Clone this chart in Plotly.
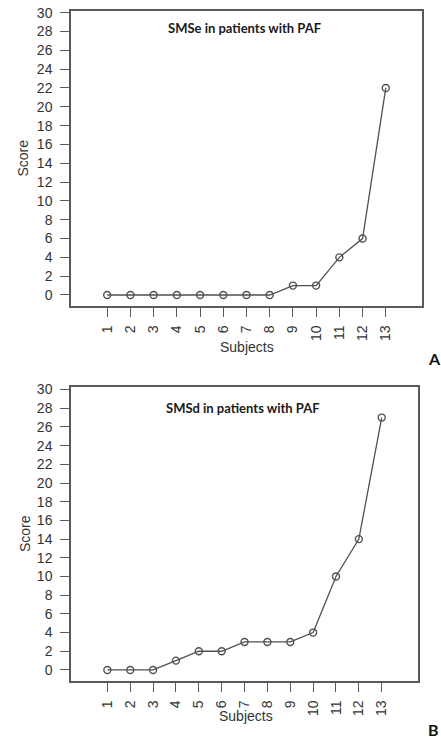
import plotly.graph_objects as go

W, H = 441, 738

subjects = list(range(1, 14))
subject_labels = [str(s) for s in subjects]
smse_scores = [0, 0, 0, 0, 0, 0, 0, 0, 1, 1, 4, 6, 22]
smsd_scores = [0, 0, 0, 1, 2, 2, 3, 3, 3, 4, 10, 14, 27]
y_ticks = list(range(0, 31, 2))
y_tick_labels = [str(v) for v in y_ticks]

title_a = "SMSe in patients with PAF"
title_b = "SMSd in patients with PAF"
x_title = "Subjects"
y_title = "Score"


def px(x):
    return x / W


def py(y):
    return 1 - y / H


LINE = "#505050"
BOX = "#5a5a5a"
TXT = "#333333"

fig = go.Figure()

for i, vals in enumerate([smse_scores, smsd_scores]):
    sfx = "" if i == 0 else "2"
    fig.add_trace(go.Scatter(
        x=subjects, y=vals, mode="lines+markers",
        line=dict(color=LINE, width=1.3),
        marker=dict(symbol="circle-open", size=7, color=LINE, line=dict(width=1.4)),
        xaxis="x" + sfx, yaxis="y" + sfx, showlegend=False, hoverinfo="x+y",
    ))

tick_font = dict(family="Liberation Sans, Arial, sans-serif", size=14, color=TXT)
axis_common = dict(
    showline=True, mirror=True, linecolor=BOX, linewidth=1.5,
    showgrid=False, zeroline=False, ticks="outside", ticklen=9,
    tickwidth=1.3, tickcolor=BOX, automargin=False, tickfont=tick_font,
)

fig.update_layout(
    template="none",
    width=W, height=H,
    margin=dict(l=0, r=0, t=0, b=0),
    paper_bgcolor="white", plot_bgcolor="white",
    xaxis=dict(domain=[px(71), px(422)], range=[-0.56, 14.56], anchor="y",
               tickmode="array", tickvals=subjects, ticktext=subject_labels,
               tickangle=-90, ticklabelstandoff=3, **axis_common),
    yaxis=dict(domain=[py(306), py(11)], range=[-1.17, 30.18], anchor="x",
               tickmode="array", tickvals=y_ticks, ticktext=y_tick_labels,
               ticklabelstandoff=5, **axis_common),
    xaxis2=dict(domain=[px(71), px(418.3)], range=[-0.59, 14.6], anchor="y2",
                tickmode="array", tickvals=subjects, ticktext=subject_labels,
                tickangle=-90, ticklabelstandoff=3, **axis_common),
    yaxis2=dict(domain=[py(681), py(387.3)], range=[-1.18, 30.24], anchor="x2",
                tickmode="array", tickvals=y_ticks, ticktext=y_tick_labels,
                ticklabelstandoff=5, **axis_common),
)

lab_font = dict(family="Liberation Sans, Arial, sans-serif", size=14, color=TXT)
ttl_font = dict(family="Lato, sans-serif", size=13, color="#1a1a1a")
pan_font = dict(family="Lato, sans-serif", size=16, color="#111111")

annos = [
    (22, 158.5, y_title, lab_font, -90),
    (247, 347, x_title, lab_font, 0),
    (244, 27.5, "<b>" + title_a + "</b>", ttl_font, 0),
    (434, 358, "<b>A</b>", pan_font, 0),
    (25, 534, y_title, lab_font, -90),
    (246, 716, x_title, lab_font, 0),
    (243, 408, "<b>" + title_b + "</b>", ttl_font, 0),
    (433, 729, "<b>B</b>", pan_font, 0),
]
for x, y, t, f, ang in annos:
    fig.add_annotation(x=px(x), y=py(y), xref="paper", yref="paper", text=t,
                       showarrow=False, font=f, textangle=ang,
                       xanchor="center", yanchor="middle", borderpad=0)

fig.write_html(
    "out.html",
    config={"displayModeBar": False},
    post_script="document.body.style.margin='0';document.body.style.overflow='hidden';",
)
